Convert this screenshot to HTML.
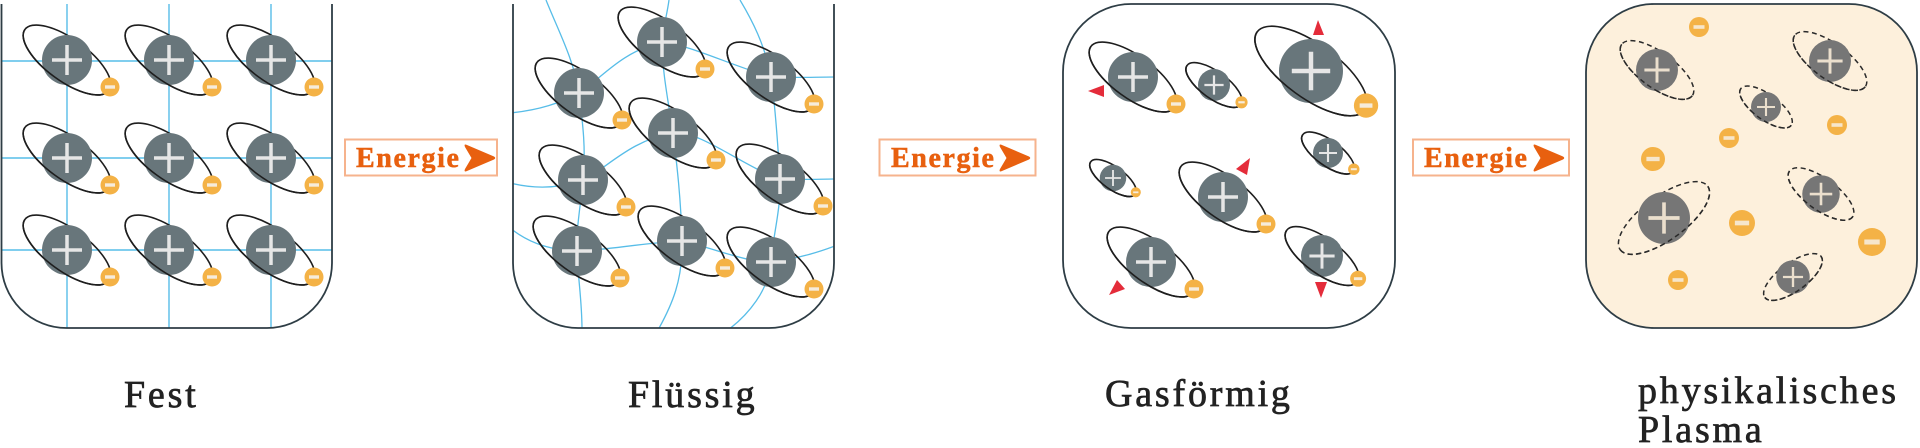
<!DOCTYPE html>
<html>
<head>
<meta charset="utf-8">
<style>
  html, body { margin: 0; padding: 0; background: #ffffff; }
  body { width: 1920px; height: 448px; overflow: hidden; }
  svg { display: block; }
  .lbl { font-family: "Liberation Serif", "DejaVu Serif", serif; font-size: 38px; letter-spacing: 2.8px; fill: #222222; stroke: #222222; stroke-width: 0.7px; }
  .en { font-family: "Liberation Serif", "DejaVu Serif", serif; font-weight: bold; font-size: 28px; letter-spacing: 1.6px; fill: #e8600f; stroke: #e8600f; stroke-width: 0.5px; }
</style>
</head>
<body>
<svg width="1920" height="448" viewBox="0 0 1920 448" xmlns="http://www.w3.org/2000/svg">
  <defs>
    <g id="atomA">
      <ellipse cx="0" cy="0" rx="52" ry="21" transform="rotate(36)" fill="none" stroke="#1e1e1e" stroke-width="1.6" vector-effect="non-scaling-stroke"/>
      <circle r="25" fill="#68767b"/>
      <path d="M-52 0 A52 21 0 0 0 52 0" transform="rotate(36)" fill="none" stroke="#1e1e1e" stroke-width="1.6" vector-effect="non-scaling-stroke"/>
      <path d="M-15 0H15M0 -15V15" stroke="#e6e6e6" stroke-width="3.5"/>
      <circle cx="43" cy="27" r="9.5" fill="#f4b246"/>
      <rect x="38" y="25.3" width="10" height="3.4" fill="#f6ecdc"/>
    </g>
    <g id="atomP">
      <ellipse cx="0" cy="0" rx="52" ry="21" transform="rotate(36)" fill="none" stroke="#2a2a2a" stroke-width="1.5" stroke-dasharray="5 3.5" vector-effect="non-scaling-stroke"/>
      <circle r="25" fill="#767676"/>
      <path d="M-52 0 A52 21 0 0 0 52 0" transform="rotate(36)" fill="none" stroke="#2a2a2a" stroke-width="1.5" stroke-dasharray="5 3.5" vector-effect="non-scaling-stroke"/>
      <path d="M-15 0H15M0 -15V15" stroke="#ebdfcd" stroke-width="3.5"/>
    </g>
    <g id="elec">
      <circle r="10" fill="#f4b246"/>
      <rect x="-5.5" y="-1.8" width="11" height="3.6" fill="#f6e6cc"/>
    </g>
    <path id="arrow" d="M3 0 L30 11.5 Q32.5 13 30 14.5 L3 26 Q-0.5 27.5 1 24 L7.5 13 L1 2 Q-0.5 -1.5 3 0Z" fill="#e8600f"/>
    <clipPath id="clip1"><path d="M1.5 0 V263 A65 65 0 0 0 66.5 328 H267 A65 65 0 0 0 332 263 V0 Z"/></clipPath>
    <clipPath id="clip2"><path d="M513 0 V263 A65 65 0 0 0 578 328 H769 A65 65 0 0 0 834 263 V0 Z"/></clipPath>
  </defs>

  <!-- Panel 1: Fest -->
  <g clip-path="url(#clip1)" stroke="#57bde8" stroke-width="1.4" fill="none">
    <path d="M67 4V330M169 4V330M271 4V330"/>
    <path d="M0 61H334M0 158H334M0 250H334"/>
  </g>
  <path d="M1.5 4 V263 A65 65 0 0 0 66.5 328 H267 A65 65 0 0 0 332 263 V4" fill="none" stroke="#2e3d45" stroke-width="1.8"/>
  <use href="#atomA" transform="translate(67 60)"/>
  <use href="#atomA" transform="translate(169 60)"/>
  <use href="#atomA" transform="translate(271 60)"/>
  <use href="#atomA" transform="translate(67 158)"/>
  <use href="#atomA" transform="translate(169 158)"/>
  <use href="#atomA" transform="translate(271 158)"/>
  <use href="#atomA" transform="translate(67 250)"/>
  <use href="#atomA" transform="translate(169 250)"/>
  <use href="#atomA" transform="translate(271 250)"/>

  <!-- Energie 1 -->
  <rect x="345" y="139.5" width="152" height="36" fill="#ffffff" stroke="#f6b38d" stroke-width="2"/>
  <text class="en" x="356" y="167">Energie</text>
  <use href="#arrow" transform="translate(464 145)"/>

  <!-- Panel 2: Flüssig -->
  <g clip-path="url(#clip2)" stroke="#57bde8" stroke-width="1.3" fill="none">
    <path d="M546 0 C558 30, 574 60, 579 93 C583 125, 586 150, 583 180 C580 210, 576 230, 577 251 C578 280, 582 300, 582 330"/>
    <path d="M669 0 C667 15, 663 28, 662 42 C662 70, 668 100, 673 133 C677 165, 681 200, 682 241 C683 280, 672 305, 658 330"/>
    <path d="M740 0 C752 20, 765 45, 771 77 C776 110, 778 150, 780 179 C781 210, 773 235, 771 262 C769 290, 748 315, 728 330"/>
    <path d="M510 113 C540 110, 560 103, 579 93 C600 80, 620 52, 662 42 C690 45, 730 65, 771 77 C795 78, 815 77, 840 77"/>
    <path d="M510 183 C530 188, 555 190, 583 180 C605 170, 630 140, 673 133 C700 130, 740 165, 780 179 C800 180, 820 179, 840 179"/>
    <path d="M510 228 C525 240, 545 250, 577 251 C610 250, 640 243, 682 241 C720 250, 745 262, 771 262 C800 258, 820 252, 840 244"/>
  </g>
  <path d="M513 4 V263 A65 65 0 0 0 578 328 H769 A65 65 0 0 0 834 263 V4" fill="none" stroke="#2e3d45" stroke-width="1.8"/>
  <use href="#atomA" transform="translate(662 42)"/>
  <use href="#atomA" transform="translate(579 93)"/>
  <use href="#atomA" transform="translate(771 77)"/>
  <use href="#atomA" transform="translate(673 133)"/>
  <use href="#atomA" transform="translate(583 180)"/>
  <use href="#atomA" transform="translate(780 179)"/>
  <use href="#atomA" transform="translate(577 251)"/>
  <use href="#atomA" transform="translate(682 241)"/>
  <use href="#atomA" transform="translate(771 262)"/>

  <!-- Energie 2 -->
  <rect x="879.5" y="139.5" width="156" height="36" fill="#ffffff" stroke="#f6b38d" stroke-width="2"/>
  <text class="en" x="891" y="167">Energie</text>
  <use href="#arrow" transform="translate(999 145)"/>

  <!-- Panel 3: Gasförmig -->
  <rect x="1063" y="4" width="332" height="324" rx="68" ry="68" fill="#ffffff" stroke="#2e3d45" stroke-width="1.8"/>
  <use href="#atomA" transform="translate(1133 77)"/>
  <use href="#atomA" transform="translate(1214 85) scale(0.64)"/>
  <use href="#atomA" transform="translate(1311 71) scale(1.28)"/>
  <use href="#atomA" transform="translate(1113 178) scale(0.53)"/>
  <use href="#atomA" transform="translate(1223 197)"/>
  <use href="#atomA" transform="translate(1328 153) scale(0.6)"/>
  <use href="#atomA" transform="translate(1151 262)"/>
  <use href="#atomA" transform="translate(1322 256) scale(0.84)"/>
  <g fill="#e42c3a">
    <polygon points="1088,91 1104,85 1104,97"/>
    <polygon points="1313,35 1318,20 1324,35"/>
    <polygon points="1236,169 1250,158 1247,175"/>
    <polygon points="1109,295 1117,280 1125,289"/>
    <polygon points="1315,282 1327,282 1321,298"/>
  </g>

  <!-- Energie 3 -->
  <rect x="1413" y="139.5" width="156" height="36" fill="#ffffff" stroke="#f6b38d" stroke-width="2"/>
  <text class="en" x="1424" y="167">Energie</text>
  <use href="#arrow" transform="translate(1533 145)"/>

  <!-- Panel 4: Plasma -->
  <rect x="1586" y="4" width="331" height="324" rx="68" ry="68" fill="#fdf0dc" stroke="#2e3d45" stroke-width="1.8"/>
  <use href="#atomP" transform="translate(1657 70) scale(0.84)"/>
  <use href="#atomP" transform="translate(1830 61) scale(0.84)"/>
  <use href="#atomP" transform="translate(1766 107) scale(0.6)"/>
  <use href="#atomP" transform="translate(1664 218) scale(-1.04 1.04)"/>
  <use href="#atomP" transform="translate(1821 194) scale(0.75)"/>
  <use href="#atomP" transform="translate(1793 277) scale(-0.67 0.67)"/>
  <use href="#elec" transform="translate(1699 27)"/>
  <use href="#elec" transform="translate(1837 125)"/>
  <use href="#elec" transform="translate(1729 138)"/>
  <use href="#elec" transform="translate(1653 159) scale(1.2)"/>
  <use href="#elec" transform="translate(1742 223) scale(1.3)"/>
  <use href="#elec" transform="translate(1872 242) scale(1.4)"/>
  <use href="#elec" transform="translate(1678 280)"/>

  <!-- Labels -->
  <text class="lbl" x="124" y="407">Fest</text>
  <text class="lbl" x="628" y="407">Flüssig</text>
  <text class="lbl" x="1105" y="406">Gasförmig</text>
  <text class="lbl" x="1638" y="403">physikalisches</text>
  <text class="lbl" x="1638" y="442">Plasma</text>
</svg>
</body>
</html>
